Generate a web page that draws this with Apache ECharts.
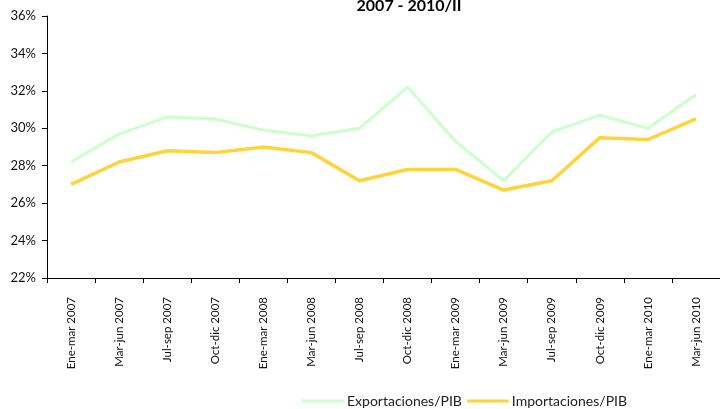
<!DOCTYPE html>
<html>
<head>
<meta charset="utf-8">
<script src="https://cdn.jsdelivr.net/npm/echarts@6/dist/echarts.min.js"></script>
<style>html,body{margin:0;padding:0;background:#fff;}#c{width:720px;height:409px;}</style>
</head>
<body>
<div id="c"></div>
<script>
var categories = ['Ene-mar 2007','Mar-jun 2007','Jul-sep 2007','Oct-dic 2007','Ene-mar 2008','Mar-jun 2008','Jul-sep 2008','Oct-dic 2008','Ene-mar 2009','Mar-jun 2009','Jul-sep 2009','Oct-dic 2009','Ene-mar 2010','Mar-jun 2010'];
var exportaciones = [28.2, 29.7, 30.6, 30.5, 29.9, 29.6, 30.0, 32.2, 29.3, 27.2, 29.8, 30.7, 30.0, 31.8];
var importaciones = [27.0, 28.2, 28.8, 28.7, 29.0, 28.7, 27.2, 27.8, 27.8, 26.7, 27.2, 29.5, 29.4, 30.5];
var seriesNames = ['Exportaciones/PIB', 'Importaciones/PIB'];
var titleText = '2007 - 2010/II';
var yTicks = [22, 24, 26, 28, 30, 32, 34, 36];

var font = 'Lato, "Open Sans", sans-serif';
var chart = echarts.init(document.getElementById('c'), null, {renderer: 'canvas'});
chart.setOption({
  animation: false,
  backgroundColor: '#fff',
  title: {
    text: titleText,
    left: 404, textAlign: 'center', top: -7, padding: 5,
    textStyle: {fontFamily: font, fontWeight: 'bold', fontSize: 16, color: '#000'}
  },
  legend: {
    data: seriesNames,
    top: 394, left: 302, padding: 0,
    itemWidth: 42, itemHeight: 3, itemGap: 5,
    icon: 'rect',
    textStyle: {fontFamily: font, fontSize: 14, color: '#222', padding: [0,0,0,-2]}
  },
  grid: {left: 47, right: -3, top: 16, bottom: 131, containLabel: false},
  xAxis: {
    type: 'category',
    data: categories,
    boundaryGap: true,
    axisLine: {lineStyle: {color: '#000', width: 1}},
    axisTick: {show: true, length: 5, lineStyle: {color: '#000'}},
    axisLabel: {rotate: 90, interval: 0, margin: 19, fontFamily: font, fontSize: 11.5, color: '#111'}
  },
  yAxis: {
    type: 'value',
    min: yTicks[0], max: yTicks[yTicks.length - 1], interval: 2,
    axisLine: {show: true, lineStyle: {color: '#000', width: 1}},
    axisTick: {show: true, length: 5, lineStyle: {color: '#000'}},
    splitLine: {show: false},
    axisLabel: {margin: 11, fontFamily: font, fontSize: 13, color: '#111', formatter: function(v){return v + '%';}}
  },
  series: [
    {name: seriesNames[0], type: 'line', data: exportaciones, symbol: 'none', smooth: false,
     lineStyle: {color: '#ccffcc', width: 3}, itemStyle: {color: '#ccffcc'}},
    {name: seriesNames[1], type: 'line', data: importaciones, symbol: 'none', smooth: false,
     lineStyle: {color: '#ffd43b', width: 3.5}, itemStyle: {color: '#ffd43b'}}
  ]
});
</script>
</body>
</html>
